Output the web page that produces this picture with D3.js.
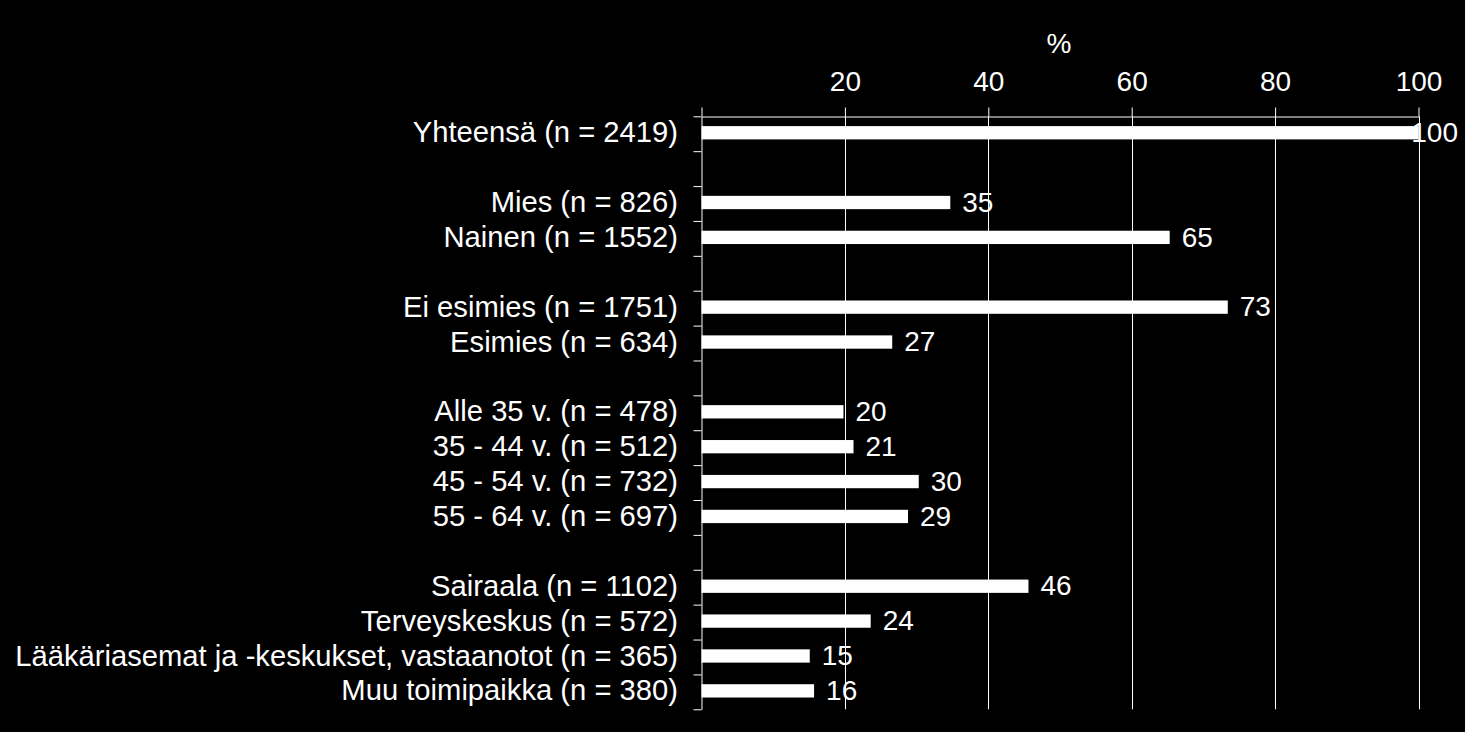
<!DOCTYPE html>
<html>
<head>
<meta charset="utf-8">
<script src="https://cdn.jsdelivr.net/npm/d3@7"></script>
<style>
  html, body { margin: 0; padding: 0; background: #000; }
  svg { display: block; }
  text { font-family: "Liberation Sans", Arial, sans-serif; fill: #fff; }
</style>
</head>
<body>
<svg id="chart" width="1465" height="732"></svg>
<script>
// Rows of the chart (null = empty spacer row)
const categories = [
  "Yhteensä (n = 2419)", null,
  "Mies (n = 826)", "Nainen (n = 1552)", null,
  "Ei esimies (n = 1751)", "Esimies (n = 634)", null,
  "Alle 35 v. (n = 478)", "35 - 44 v. (n = 512)", "45 - 54 v. (n = 732)", "55 - 64 v. (n = 697)", null,
  "Sairaala (n = 1102)", "Terveyskeskus (n = 572)",
  "Lääkäriasemat ja -keskukset, vastaanotot (n = 365)", "Muu toimipaikka (n = 380)"
];
// Bar lengths (%)
const values = [100, null, 34.7, 65.3, null, 73.4, 26.6, null, 19.8, 21.2, 30.3, 28.8, null, 45.6, 23.6, 15.1, 15.7];
// Value labels shown next to the bars
const valueLabels = ["100", null, "35", "65", null, "73", "27", null, "20", "21", "30", "29", null, "46", "24", "15", "16"];
const xTicks = [0, 20, 40, 60, 80, 100];
const axisTitle = "%";

const svg = d3.select("#chart");
const W = 1465;

const x = d3.scaleLinear().domain([0, 100]).range([701.5, 1418.5]);
const y = d3.scaleBand().domain(d3.range(categories.length)).range([116.3, 709.3]).padding(0);
const yIdx = d3.scaleLinear().domain([0, categories.length]).range([116.3, 709.3]);
const barH = 13.3;

// gridlines
svg.append("g")
  .selectAll("line")
  .data(xTicks.filter(d => d > 0))
  .join("line")
  .attr("x1", d => Math.round(x(d)) + 0.5)
  .attr("x2", d => Math.round(x(d)) + 0.5)
  .attr("y1", 116.3)
  .attr("y2", 709.3)
  .attr("stroke", "#fff")
  .attr("stroke-width", 1);

// top axis
const topAxis = svg.append("g")
  .attr("transform", "translate(0,116.5)")
  .call(d3.axisTop(x).tickValues(xTicks).tickSize(9).tickSizeOuter(0).tickPadding(17)
    .tickFormat(d => d === 0 ? "" : d));
topAxis.selectAll("line").attr("stroke", "#fff");
topAxis.select(".domain").attr("stroke", "#fff");
topAxis.selectAll("text")
  .attr("fill", "#fff")
  .style("font-family", '"Liberation Sans", Arial, sans-serif')
  .style("font-size", "28px");

// axis title
svg.append("text")
  .attr("x", 1059)
  .attr("y", 53)
  .attr("text-anchor", "middle")
  .style("font-size", "28px")
  .text(axisTitle);

// left axis (ticks at row boundaries)
const leftAxis = svg.append("g")
  .attr("transform", "translate(701.5,0)")
  .call(d3.axisLeft(yIdx).tickValues(d3.range(categories.length + 1)).tickSize(8).tickSizeOuter(0)
    .tickFormat(""));
leftAxis.selectAll("line").attr("stroke", "#fff");
leftAxis.select(".domain").attr("stroke", "#fff");

// category labels
svg.append("g")
  .selectAll("text")
  .data(categories.map((c, i) => ({c, i})).filter(d => d.c))
  .join("text")
  .attr("x", 678)
  .attr("y", d => y(d.i) + y.bandwidth() / 2 - 1)
  .attr("dy", "0.33em")
  .attr("text-anchor", "end")
  .style("font-size", "29.2px")
  .text(d => d.c);

const rows = values.map((v, i) => ({v, i, label: valueLabels[i]})).filter(d => d.v != null);

// bars
svg.append("g")
  .selectAll("rect")
  .data(rows)
  .join("rect")
  .attr("x", x(0))
  .attr("y", d => y(d.i) + (y.bandwidth() - barH) / 2 - 1)
  .attr("width", d => x(d.v) - x(0))
  .attr("height", barH)
  .attr("fill", "#fff");

// value labels
svg.append("g")
  .selectAll("text")
  .data(rows)
  .join("text")
  .attr("y", d => y(d.i) + y.bandwidth() / 2 - 1)
  .attr("dy", "0.33em")
  .style("font-size", "28px")
  .text(d => d.label)
  .attr("x", function(d) {
    const len = this.getComputedTextLength();
    return Math.min(x(d.v) + 12, W - 7 - len);
  });
</script>
</body>
</html>
